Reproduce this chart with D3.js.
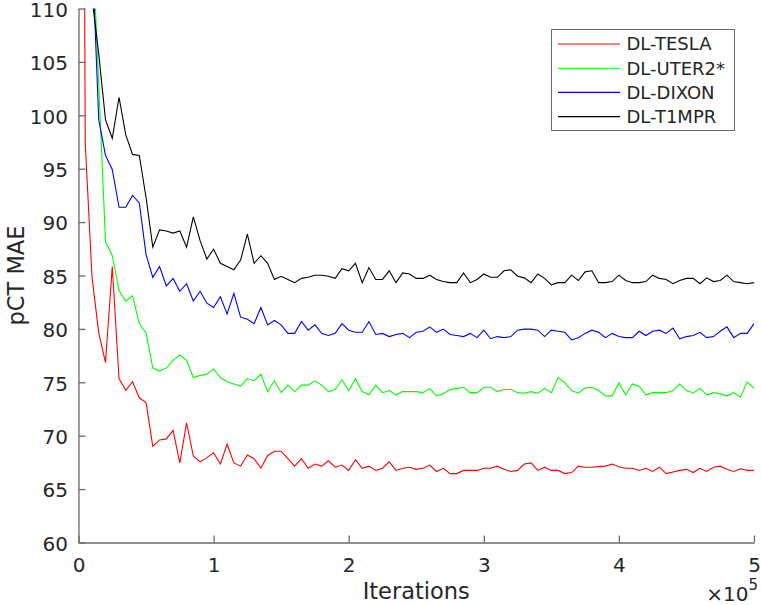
<!DOCTYPE html>
<html>
<head>
<meta charset="utf-8">
<script src="https://cdn.jsdelivr.net/npm/d3@7/dist/d3.min.js"></script>
<style>
  body { margin: 0; background: white; }
  svg text { font-family: "DejaVu Sans", sans-serif; }
</style>
</head>
<body>
<div id="d3-container"></div>
<script>

// values, one sample every 5000 iterations (0 .. 500000)
const step = 5000;

const seriesNames = ['DL-TESLA', 'DL-UTER2*', 'DL-DIXON', 'DL-T1MPR'];
const seriesColors = ['#ff0000', '#00ff00', '#0000ff', '#000000'];

const tesla = [244, 97.35, 84.85, 79.6, 76.85, 85.85, 75.35, 74.25, 75.05, 73.55,
  73.1, 69.0, 69.6, 69.7, 70.5, 67.45, 71.2, 68.1, 67.55, 67.95,
  68.4, 67.35, 69.2, 67.45, 67.15, 68.2, 67.85, 66.95,
  68.15, 68.55, 68.55, 67.85, 67.15, 67.85, 66.95, 67.35, 67.15, 67.65,
  67.05, 67.25, 66.75, 67.75, 66.95, 67.15, 66.75, 66.95, 67.55, 66.75,
  66.95, 67.05, 66.85, 66.95, 67.25, 66.65, 66.95, 66.45, 66.45, 66.75,
  66.75, 66.75, 66.95, 66.95,
  67.15, 66.85, 66.65, 66.75, 67.35, 67.45, 66.75, 67.05, 66.75, 66.75,
  66.45, 66.55, 67.15, 67.05, 67.05, 67.1, 67.15, 67.35, 67.1, 66.95,
  66.95, 66.75, 66.95, 66.65, 67.05, 66.45, 66.6, 66.75, 66.85, 66.55,
  66.95, 66.65, 67.05, 67.15, 66.85, 66.65, 66.9, 66.75, 66.75];

const uter2 = [250, 150, 117.5, 102.8, 88.15, 86.85, 83.6, 82.6, 83.1, 80.5,
  79.6, 76.35, 76.05, 76.35, 77.05, 77.55, 77.05, 75.45, 75.65, 75.75,
  76.25, 75.45, 75.05, 74.85, 74.65, 75.35, 75.15, 75.75,
  74.13, 75.14, 74.03, 74.74, 74.13, 74.74, 74.74, 75.14, 74.74, 74.13,
  74.33, 75.24, 74.23, 75.34, 74.13, 73.83, 74.74, 74.03, 74.23, 73.83,
  74.13, 74.13, 74.13, 74.03, 74.43, 73.73, 73.93, 74.33, 74.43, 74.53,
  74.03, 74.03, 74.53, 74.53,
  74.13, 74.33, 74.33, 74.03, 73.98, 74.13, 73.98, 74.43, 74.03, 75.44,
  74.94, 74.23, 73.98, 74.48, 74.53, 74.23, 73.73, 73.73, 74.94, 73.83,
  74.84, 74.64, 73.83, 74.03, 74.03, 74.03, 74.23, 74.84, 74.23, 74.03,
  74.43, 73.83, 74.03, 73.93, 73.73, 74.03, 73.63, 75.04, 74.43];

const dixon = [250, 140, 115.5, 99.57, 96.24, 94.93, 91.39, 91.39, 92.5, 91.8,
  86.95, 84.83, 85.84, 84.02, 84.73, 83.52, 84.23, 82.61, 83.52, 82.41,
  82.0, 83.01, 81.4, 83.32, 81.1, 80.9, 80.49, 82.0,
  80.38, 80.79, 80.38, 79.58, 79.58, 80.69, 79.88, 80.38, 79.58, 79.38,
  79.58, 80.49, 79.88, 79.68, 79.68, 80.69, 79.48, 79.58, 79.28, 79.48,
  79.58, 79.18, 79.68, 79.78, 80.19, 79.68, 79.98, 79.48, 79.38, 79.28,
  79.58, 79.18, 79.88, 79.08,
  79.28, 79.18, 79.28, 79.88, 79.98, 79.98, 79.88, 79.28, 79.88, 79.78,
  79.68, 78.97, 79.18, 79.58, 79.88, 79.68, 79.18, 79.58, 79.28, 79.18,
  79.18, 79.78, 79.38, 79.78, 79.88, 79.58, 80.08, 79.08, 79.28, 79.38,
  79.68, 79.18, 79.28, 79.78, 80.19, 79.18, 79.58, 79.58, 80.49];

const t1mpr = [250, 135, 111, 105.73, 99.57, 97.85, 101.69, 98.16, 96.34, 96.24,
  92.3, 87.66, 89.27, 89.17, 88.97, 89.17, 87.66, 90.48, 88.26, 86.55,
  87.46, 86.14, 85.84, 85.54, 86.45, 88.87, 86.14, 86.85,
  86.14, 84.63, 84.93, 84.63, 84.33, 84.73, 84.83, 85.03, 85.03, 84.93,
  84.73, 85.64, 85.44, 86.14, 84.33, 85.74, 84.63, 84.63, 85.44, 84.33,
  85.24, 85.14, 84.73, 84.73, 85.03, 84.63, 84.43, 84.33, 84.33, 85.24,
  84.33, 84.63, 85.14, 84.83,
  84.83, 85.44, 85.54, 84.93, 84.78, 84.33, 85.14, 84.73, 84.13, 84.33,
  84.33, 85.03, 84.53, 85.34, 85.44, 84.33, 84.33, 84.43, 85.03, 84.53,
  84.33, 84.33, 84.43, 85.03, 84.73, 84.63, 84.23, 84.53, 84.73, 84.73,
  84.23, 84.78, 84.43, 84.53, 85.03, 84.43, 84.33, 84.23, 84.33];

const xTicks = [0, 100000, 200000, 300000, 400000, 500000];
const yTicks = [60, 65, 70, 75, 80, 85, 90, 95, 100, 105, 110];

let margin = {top: 8.5, left: 78.5, right: 7, bottom: 62.5},
  width = 761 - margin.left - margin.right,
  height = 605 - margin.top - margin.bottom;

let svg1 = d3.select('#d3-container')
  .append('svg')
  .attr('width', 761)
  .attr('height', 605)
  .style('background-color', 'white');

let xScale = d3.scaleLinear().domain([0, 500000]).range([0, width]);
let yScale = d3.scaleLinear().domain([60, 110]).range([height, 0]);

let plot = svg1.append('g')
  .attr('transform', 'translate(' + margin.left + ',' + margin.top + ')');

// clip so the steep first samples leave through the top edge
svg1.append('defs').append('clipPath').attr('id', 'plot-clip')
  .append('rect').attr('x', 0).attr('y', 0).attr('width', width).attr('height', height);

let allSeries = [tesla, uter2, dixon, t1mpr];
let line = d3.line()
  .x((d, i) => xScale(i * step))
  .y(d => yScale(d));

plot.append('g').attr('clip-path', 'url(#plot-clip)')
  .selectAll('path')
  .data(allSeries)
  .enter().append('path')
  .attr('d', d => line(d))
  .attr('fill', 'none')
  .attr('stroke', (d, i) => seriesColors[i])
  .attr('stroke-width', 1.1);

// axes, ticks pointing inward like matlab
let xAxis = plot.append('g')
  .attr('transform', 'translate(0,' + height + ')')
  .call(d3.axisBottom(xScale).tickValues(xTicks).tickSizeInner(-7).tickSizeOuter(0)
    .tickPadding(15).tickFormat(d => d / 100000));

let yAxis = plot.append('g')
  .call(d3.axisLeft(yScale).tickValues(yTicks).tickSizeInner(-7).tickSizeOuter(0)
    .tickPadding(10.5));
yAxis.selectAll('text').attr('dy', '0.39em');

[xAxis, yAxis].forEach(function(g) {
  g.attr('font-size', 20).attr('font-family', '"DejaVu Sans", sans-serif');
  g.selectAll('path, line').attr('stroke', '#6a6a6a').attr('stroke-width', 1.3);
  g.selectAll('text').attr('fill', '#262626');
});

// axis labels
svg1.append('text')
  .attr('x', margin.left + width / 2)
  .attr('y', 599)
  .attr('text-anchor', 'middle')
  .attr('font-size', 22.5)
  .attr('fill', '#262626')
  .text('Iterations');

svg1.append('text')
  .attr('transform', 'translate(23.5,' + (margin.top + height / 2) + ') rotate(-90)')
  .attr('text-anchor', 'middle')
  .attr('font-size', 22.5)
  .attr('fill', '#262626')
  .text('pCT MAE');

let expo = svg1.append('text')
  .attr('x', 758)
  .attr('y', 601)
  .attr('text-anchor', 'end')
  .attr('font-size', 20)
  .attr('fill', '#262626');
expo.append('tspan').text('\u00d710');
expo.append('tspan').attr('dy', -11).attr('font-size', 15).text('5');

// legend box
let legend = svg1.append('g').attr('transform', 'translate(551.5,29.5)');
legend.append('rect')
  .attr('width', 183)
  .attr('height', 101)
  .attr('fill', 'white')
  .attr('stroke', '#6a6a6a')
  .attr('stroke-width', 1);

let rows = legend.selectAll('.row')
  .data(seriesNames)
  .enter().append('g')
  .attr('class', 'row')
  .attr('transform', (d, i) => 'translate(0,' + (14.5 + i * 24.2) + ')');

rows.append('line')
  .attr('x1', 6.5).attr('x2', 68.5)
  .attr('stroke', (d, i) => seriesColors[i])
  .attr('stroke-width', 1.1);

rows.append('text')
  .attr('x', 75)
  .attr('dy', '0.36em')
  .attr('font-size', 18)
  .attr('fill', '#262626')
  .text(d => d);

</script>
</body>
</html>
